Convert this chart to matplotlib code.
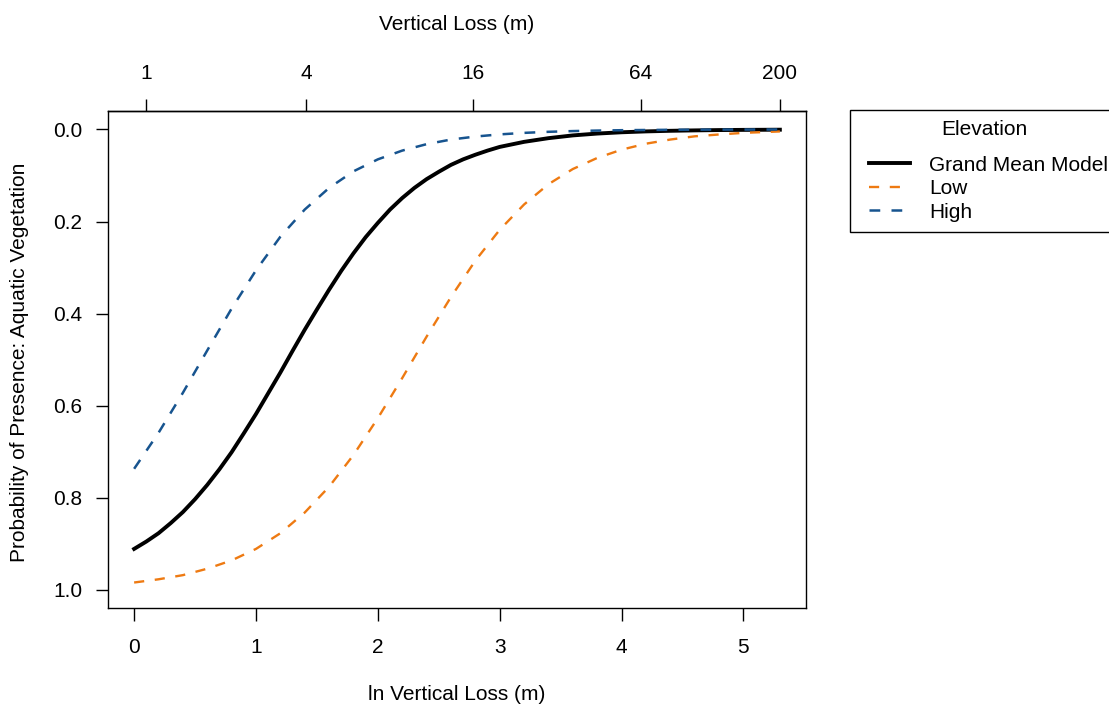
import numpy as np
import matplotlib
matplotlib.use('Agg')
import matplotlib.pyplot as plt
from matplotlib.lines import Line2D
from matplotlib.legend_handler import HandlerLine2D

# ln vertical loss (x) and probability of presence
x_grand = [0.0, 0.1, 0.2, 0.3, 0.4, 0.5, 0.6, 0.7, 0.8, 0.9, 1.0, 1.1, 1.2, 1.3,
           1.4, 1.5, 1.6, 1.7, 1.8, 1.9, 2.0, 2.1, 2.2, 2.3, 2.4, 2.5, 2.6, 2.7,
           2.8, 2.9, 3.0, 3.2, 3.4, 3.6, 3.8, 4.0, 4.2, 4.4, 4.6, 4.8, 5.0, 5.299]
p_grand = [0.911, 0.895, 0.877, 0.855, 0.831, 0.803, 0.772, 0.738, 0.701, 0.660,
           0.618, 0.573, 0.528, 0.481, 0.435, 0.391, 0.348, 0.307, 0.269, 0.234,
           0.203, 0.174, 0.149, 0.127, 0.108, 0.092, 0.077, 0.065, 0.055, 0.046,
           0.038, 0.027, 0.019, 0.013, 0.009, 0.0062, 0.0043, 0.0030, 0.0021,
           0.0014, 0.0010, 0.0006]

x_low = [0.0, 0.2, 0.4, 0.6, 0.8, 1.0, 1.2, 1.4, 1.6, 1.8, 2.0, 2.2, 2.4, 2.6,
         2.8, 3.0, 3.2, 3.4, 3.6, 3.8, 4.0, 4.2, 4.4, 4.6, 4.8, 5.0, 5.299]
p_low = [0.984, 0.977, 0.968, 0.954, 0.936, 0.911, 0.877, 0.832, 0.776, 0.707,
         0.627, 0.540, 0.450, 0.364, 0.285, 0.218, 0.163, 0.119, 0.086, 0.062,
         0.044, 0.031, 0.022, 0.015, 0.011, 0.0075, 0.0044]

x_high = [0.0, 0.2, 0.4, 0.6, 0.8, 1.0, 1.2, 1.4, 1.6, 1.8, 2.0, 2.2, 2.4, 2.6,
          2.8, 3.0, 3.2, 3.4, 3.6, 3.8, 4.0, 4.4, 4.8, 5.299]
p_high = [0.737, 0.659, 0.572, 0.480, 0.389, 0.306, 0.233, 0.174, 0.127, 0.091,
          0.065, 0.046, 0.032, 0.022, 0.0155, 0.0108, 0.0075, 0.0052, 0.0036,
          0.0025, 0.0017, 0.0008, 0.0004, 0.0002]

top_tick_values = [1, 4, 16, 64, 200]
bottom_ticks = [0, 1, 2, 3, 4, 5]
y_ticks = [0.0, 0.2, 0.4, 0.6, 0.8, 1.0]

orange = '#EE7A12'
blue = '#17548F'
fs = 15

plt.rcParams['font.family'] = ['Liberation Sans', 'DejaVu Sans']

fig = plt.figure(figsize=(11.09, 7.09), dpi=100)
ax = fig.add_axes([108.3 / 1109, 1 - 608.3 / 709, 697.4 / 1109, 497.3 / 709])

ax.plot(x_grand, p_grand, color='black', lw=2.8, solid_joinstyle='round')
ax.plot(x_low, p_low, color=orange, lw=1.7, dashes=(4.3, 4.5))
ax.plot(x_high, p_high, color=blue, lw=1.8, dashes=(4.3, 4.5))

ax.set_xlim(-0.212, 5.511)
ax.set_ylim(1.04, -0.04)

ax.set_xticks(bottom_ticks)
ax.set_xticklabels([str(t) for t in bottom_ticks], fontsize=fs)
ax.set_yticks(y_ticks)
ax.set_yticklabels(['%.1f' % t for t in y_ticks], fontsize=fs)
ax.tick_params(axis='x', length=9, width=1, pad=12.5, direction='out')
ax.tick_params(axis='y', length=9, width=1, pad=9.5, direction='out')
for s in ax.spines.values():
    s.set_linewidth(1)

# top axis in raw vertical loss units (x = ln(v + 0.1))
top = ax.secondary_xaxis('top')
top.set_xticks(np.log(np.array(top_tick_values) + 0.1))
top.set_xticklabels([str(v) for v in top_tick_values], fontsize=fs)
top.tick_params(axis='x', length=9, width=1, pad=11.5, direction='out')
top.spines['top'].set_linewidth(1)

fig.text(457 / 1109, 1 - 695 / 709, 'ln Vertical Loss (m)', fontsize=fs,
         ha='center', va='center')
fig.text(457 / 1109, 1 - 25 / 709, 'Vertical Loss (m)', fontsize=fs,
         ha='center', va='center')
fig.text(20 / 1109, 1 - 362 / 709, 'Probability of Presence: Aquatic Vegetation',
         fontsize=fs, rotation=90, ha='center', va='center')

handles = [Line2D([], [], color='black', lw=2.8),
           Line2D([], [], color=orange, lw=1.7, dashes=(4.3, 4.5)),
           Line2D([], [], color=blue, lw=1.8, dashes=(4.3, 4.5))]
hl = HandlerLine2D(xpad=0.4)
leg = ax.legend(handles, ['Grand Mean Model', 'Low', 'High'], title='Elevation\n',
                loc='upper left', bbox_to_anchor=(850 / 1109, 1 - 110 / 709),
                bbox_transform=fig.transFigure, borderaxespad=0,
                fontsize=fs, title_fontsize=fs, frameon=True, fancybox=False,
                edgecolor='black', framealpha=1, handlelength=2.4,
                handletextpad=0.9, labelspacing=0.22, borderpad=0.5,
                handler_map={Line2D: hl})
leg.get_title().set_linespacing(0.5)
leg.get_frame().set_linewidth(1)

fig.savefig('out.png', dpi=100)
